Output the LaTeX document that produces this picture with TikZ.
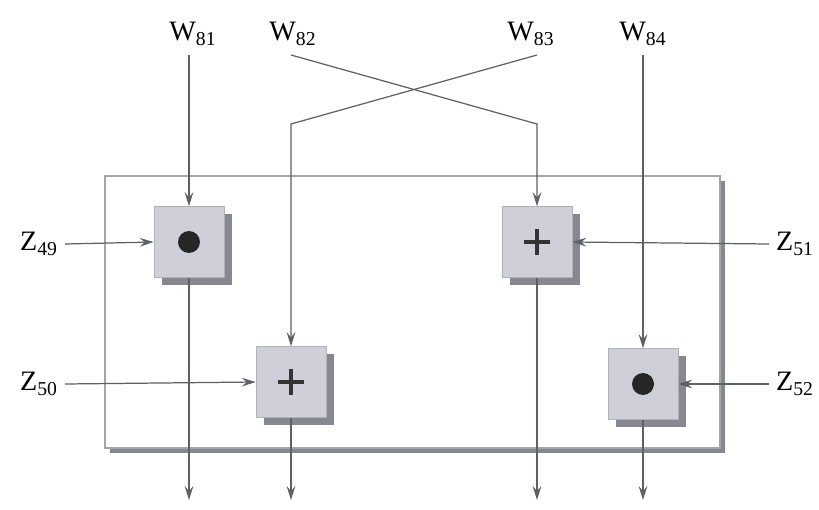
\documentclass[tikz,border=0pt]{standalone}
\usepackage{fontspec}
\setmainfont{Liberation Serif}
\usetikzlibrary{arrows.meta,positioning,shadows}
\definecolor{opfill}{RGB}{206,207,216}
\definecolor{opshade}{RGB}{135,135,146}
\definecolor{wirecol}{RGB}{95,95,102}

\tikzset{
  wire/.style={draw=wirecol, line width=0.7pt, -{Stealth[length=8pt,width=5pt,inset=3pt]}},
  oplabel/.style={font=\fontsize{16}{18}\selectfont, inner sep=1pt},
  opbox/.style={draw=gray!60, fill=opfill, minimum width=1.4cm, minimum height=1.42cm,
    inner sep=0pt, drop shadow={shadow xshift=4.5pt, shadow yshift=-4.5pt, fill=opshade, opacity=1}},
  opsign/.style={black!80, line width=2pt}
}

\begin{document}
\begin{tikzpicture}[x=0.02cm, y=-0.02cm]
  \useasboundingbox (0,0) rectangle (819,510);

  % frame round the round
  \fill[opshade] (110,181) rectangle (725,453);
  \draw[gray!70, fill=white, line width=0.6pt] (105,176) rectangle (720,448);

  % operations
  \node[opbox] (m1) at (189,242) {};
  \node[opbox] (a2) at (537,242) {};
  \node[opbox] (a3) at (291,382) {};
  \node[opbox] (m4) at (643,384) {};
  \foreach \n in {m1,m4} {
    \fill[black!85] (\n) circle[radius=11];
  }
  \foreach \n in {a2,a3} {
    \draw[opsign] (\n) ++(-13,0) -- ++(26,0);
    \draw[opsign] (\n) ++(0,-13) -- ++(0,26);
  }

  % inputs
  \node[oplabel] (w81) at (193,34) {W\textsubscript{81}};
  \node[oplabel] (w82) at (293,34) {W\textsubscript{82}};
  \node[oplabel] (w83) at (531,34) {W\textsubscript{83}};
  \node[oplabel] (w84) at (643,34) {W\textsubscript{84}};
  \node[oplabel] (z49) at (39,244) {Z\textsubscript{49}};
  \node[oplabel] (z50) at (39,384) {Z\textsubscript{50}};
  \node[oplabel] (z51) at (795,244) {Z\textsubscript{51}};
  \node[oplabel] (z52) at (795,384) {Z\textsubscript{52}};

  \coordinate (x82) at (537,124);
  \coordinate (x83) at (291,124);
  \foreach \n in {m1,a3,a2,m4} {
    \coordinate (out-\n) at (\n |- 0,500);
  }

  \draw[wire] (m1 |- 0,55) -- (m1.north);
  \draw[wire] (291,55) -- (x82) -- (a2.north);
  \draw[wire] (537,55) -- (x83) -- (a3.north);
  \draw[wire] (m4 |- 0,55) -- (m4.north);

  \draw[wire] (z49.east) ++(5,0) -- (m1.west);
  \draw[wire] (z50.east) ++(5,0) -- (a3.west);
  \draw[wire] (z51.west) ++(-5,0) -- (a2.east);
  \draw[wire] (z52.west) ++(-5,0) -- (m4.east);

  % outputs
  \foreach \n in {m1,a3,a2,m4} {
    \draw[wire] (\n.south) -- (out-\n);
  }
\end{tikzpicture}
\end{document}
